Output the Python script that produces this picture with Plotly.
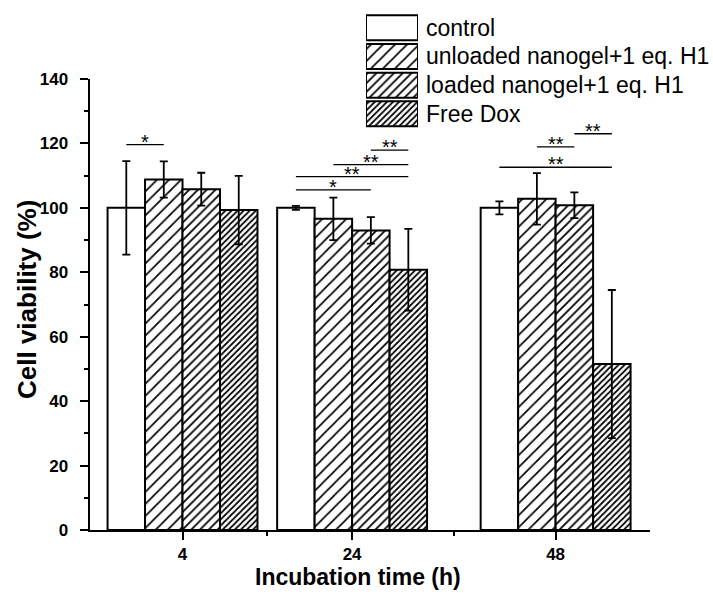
import plotly.graph_objects as go

# ---- data -------------------------------------------------------------
hours = [4, 24, 48]
tick_labels = ["4", "24", "48"]
series_names = ["control", "unloaded nanogel+1 eq. H1",
                "loaded nanogel+1 eq. H1", "Free Dox"]

control = [100.0, 100.0, 100.0]
control_err = [14.5, 0.6, 2.0]
unloaded = [108.8, 96.6, 102.8]
unloaded_err = [5.6, 6.6, 8.0]
loaded = [105.8, 93.0, 100.8]
loaded_err = [5.1, 4.1, 4.0]
free_dox = [99.3, 80.8, 51.5]
free_dox_err = [10.6, 12.7, 23.0]

# significance brackets: (time, series a, series b, bracket height, label)
significance = [
    (4, 0, 1, 119.6, "*"),
    (24, 0, 2, 105.6, "*"),
    (24, 0, 3, 109.7, "**"),
    (24, 1, 3, 113.4, "**"),
    (24, 2, 3, 117.9, "**"),
    (48, 0, 3, 112.6, "**"),
    (48, 1, 2, 118.9, "**"),
    (48, 2, 3, 123.0, "**"),
]

# ---- layout constants --------------------------------------------------
W, H = 713, 597
FONT = "Liberation Sans, Arial, sans-serif"
BAR_W = 4.42                      # bar width in hours (linear time axis)
offsets = [-2 * BAR_W, -BAR_W, 0.0, BAR_W]
patterns = [
    dict(shape=""),
    dict(shape="/", size=8.5, solidity=0.2, fgcolor="black", bgcolor="white", fgopacity=1),
    dict(shape="/", size=6.2, solidity=0.28, fgcolor="black", bgcolor="white", fgopacity=1),
    dict(shape="/", size=4.3, solidity=0.4, fgcolor="black", bgcolor="white", fgopacity=1),
]
values = [control, unloaded, loaded, free_dox]
errors = [control_err, unloaded_err, loaded_err, free_dox_err]


def px(x):
    return x / W


def py(y):
    return 1 - y / H


fig = go.Figure()

for name, vals, errs, off, pat in zip(series_names, values, errors, offsets, patterns):
    fig.add_trace(go.Bar(
        x=hours, y=vals, name=name,
        width=BAR_W, offset=off,
        marker=dict(color="white", line=dict(color="black", width=2), pattern=pat),
        error_y=dict(type="data", array=errs, visible=True,
                     color="black", thickness=1.8, width=4),
        showlegend=False,
    ))

# significance brackets and stars
for t, a, b, level, label in significance:
    xa = t + offsets[a] + BAR_W / 2
    xb = t + offsets[b] + BAR_W / 2
    fig.add_shape(type="line", xref="x", yref="y", x0=xa, x1=xb, y0=level, y1=level,
                  line=dict(color="black", width=1.3))
    fig.add_annotation(x=(xa + xb) / 2, y=level, xref="x", yref="y", text=label,
                       showarrow=False, yanchor="bottom", yshift=-10,
                       font=dict(family=FONT, size=20, color="black"))

# legend swatches drawn on their own small axes
leg_rows = [3, 2, 1, 0]
for name, row, pat in zip(series_names, leg_rows, patterns):
    fig.add_trace(go.Bar(
        x=[1], y=[row], orientation="h", width=0.87, base=0,
        marker=dict(color="white", line=dict(color="black", width=2), pattern=pat),
        xaxis="x2", yaxis="y2", showlegend=False, hoverinfo="skip",
    ))
    fig.add_annotation(xref="x2 domain", yref="y2", x=1, y=row, text=name,
                       xanchor="left", yanchor="middle", xshift=6, showarrow=False,
                       font=dict(family=FONT, size=23, color="black"))

# axis titles
fig.add_annotation(xref="paper", yref="paper", x=px(358), y=py(577),
                   text="Incubation time (h)", showarrow=False,
                   xanchor="center", yanchor="middle",
                   font=dict(family=FONT, size=23, color="black", weight="bold"))
fig.add_annotation(xref="paper", yref="paper", x=px(27), y=py(300),
                   text="Cell viability (%)", showarrow=False, textangle=-90,
                   xanchor="center", yanchor="middle",
                   font=dict(family=FONT, size=26, color="black", weight="bold"))

tick_font = dict(family=FONT, size=17, color="black", weight="bold")

fig.update_layout(
    width=W, height=H,
    margin=dict(l=0, r=0, t=0, b=0),
    paper_bgcolor="white", plot_bgcolor="white",
    barmode="overlay",
    xaxis=dict(
        domain=[px(89.5), px(650)], range=[-6.97, 59.13],
        tickmode="array", tickvals=hours, ticktext=tick_labels,
        ticks="outside", ticklen=8, tickwidth=2, tickcolor="black",
        minor=dict(tickvals=[14, 36], ticks="outside", ticklen=4, tickwidth=2,
                   tickcolor="black"),
        showline=True, linewidth=2, linecolor="black",
        showgrid=False, zeroline=False, tickfont=tick_font, automargin=False,
    ),
    yaxis=dict(
        domain=[py(530), py(79)], range=[0, 140],
        tickmode="linear", tick0=0, dtick=20,
        ticks="outside", ticklen=8, tickwidth=2, tickcolor="black",
        minor=dict(dtick=10, ticks="outside", ticklen=4, tickwidth=2, tickcolor="black"),
        showline=True, linewidth=2, linecolor="black",
        showgrid=False, zeroline=False, tickfont=tick_font, automargin=False,
        ticklabelstandoff=8,
    ),
    xaxis2=dict(domain=[px(366), px(418)], range=[0, 1], anchor="y2",
                visible=False, fixedrange=True),
    yaxis2=dict(domain=[py(128.2), py(13.4)], range=[-0.5, 3.5], anchor="x2",
                visible=False, fixedrange=True),
)

fig.write_html("out.html")
